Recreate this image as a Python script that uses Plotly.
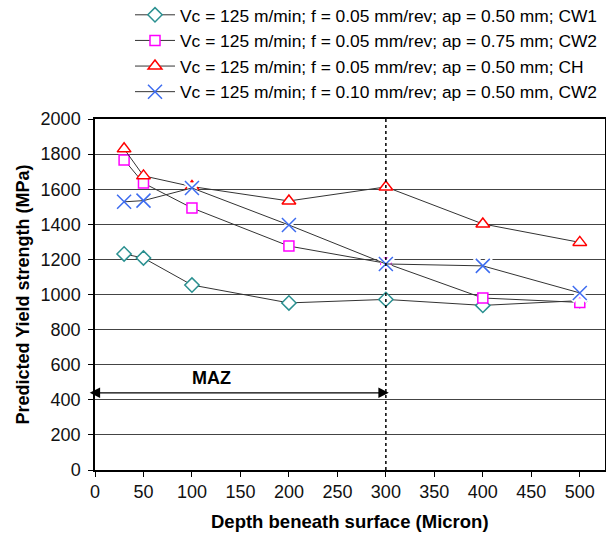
import plotly.graph_objects as go

depth = [30, 50, 100, 200, 300, 400, 500]
cw1 = [1231, 1208, 1054, 952, 972, 938, 965]
cw2_075 = [1767, 1635, 1493, 1276, 1178, 980, 955]
ch = [1830, 1676, 1615, 1533, 1613, 1402, 1297]
cw2_f010 = [1528, 1535, 1607, 1396, 1174, 1163, 1009]

names = [
    "Vc = 125 m/min; f = 0.05 mm/rev; ap = 0.50 mm; CW1",
    "Vc = 125 m/min; f = 0.05 mm/rev; ap = 0.75 mm; CW2",
    "Vc = 125 m/min; f = 0.05 mm/rev; ap = 0.50 mm; CH",
    "Vc = 125 m/min; f = 0.10 mm/rev; ap = 0.50 mm, CW2",
]
xticks = [0, 50, 100, 150, 200, 250, 300, 350, 400, 450, 500]
yticks = [0, 200, 400, 600, 800, 1000, 1200, 1400, 1600, 1800, 2000]

FONT = "Arial, Liberation Sans, sans-serif"
LINE = dict(color="#333333", width=1)

fig = go.Figure()
fig.add_trace(go.Scatter(x=depth, y=cw1, mode="lines+markers", name=names[0], legendgroup="a",
                         line=LINE, marker=dict(symbol="diamond", size=11, color="white",
                                                line=dict(color="#2a9090", width=1.5))))
fig.add_trace(go.Scatter(x=depth, y=cw2_075, mode="lines+markers", name=names[1], legendgroup="b",
                         line=LINE, marker=dict(symbol="square", size=10, color="white",
                                                line=dict(color="#ff00ff", width=1.5))))
fig.add_trace(go.Scatter(x=depth, y=ch, mode="lines+markers", name=names[2], legendgroup="c",
                         line=LINE, marker=dict(symbol="triangle-up", size=12, color="white",
                                                line=dict(color="#ff0000", width=1.5))))
# white halo under the X markers
fig.add_trace(go.Scatter(x=depth, y=cw2_f010, mode="markers", showlegend=False, hoverinfo="skip",
                         marker=dict(symbol="x-thin", size=16, color="white",
                                     line=dict(color="white", width=6))))
fig.add_trace(go.Scatter(x=depth, y=cw2_f010, mode="lines+markers", name=names[3], legendgroup="d",
                         line=LINE, marker=dict(symbol="x-thin", size=14, color="#3d6cf0",
                                                line=dict(color="#3d6cf0", width=1.5))))

fig.add_shape(type="line", x0=300, x1=300, y0=0, y1=2020, xref="x", yref="y",
              line=dict(color="black", width=1.5, dash="dot"), layer="above")

fig.add_annotation(x=303, y=440, ax=-7, ay=440, xref="x", yref="y", axref="x", ayref="y",
                   text="", showarrow=True, arrowhead=2, startarrowhead=2, arrowside="end+start",
                   arrowsize=1.6, arrowwidth=1.3, arrowcolor="black")
fig.add_annotation(x=120, y=525, xref="x", yref="y", text="<b>MAZ</b>", showarrow=False,
                   font=dict(size=18, color="black", family=FONT))

fig.add_annotation(x=(22 - 95) / 510, y=0.5, xref="paper", yref="paper", textangle=-90,
                   xanchor="center", yanchor="middle",
                   text="<b>Predicted Yield strength (MPa)</b>", showarrow=False,
                   font=dict(size=18, color="black", family=FONT))
fig.add_annotation(x=(350 - 95) / 510, y=(470 - 521) / 351, xref="paper", yref="paper",
                   xanchor="center", yanchor="middle",
                   text="<b>Depth beneath surface (Micron)</b>", showarrow=False,
                   font=dict(size=18.5, color="black", family=FONT))

fig.update_layout(
    width=606, height=535,
    margin=dict(l=95, r=1, t=119, b=65, autoexpand=False),
    paper_bgcolor="white", plot_bgcolor="white",
    font=dict(family=FONT, size=18, color="#111111"),
    showlegend=True,
    legend=dict(x=(130 - 95) / 510, y=(470 + 3) / 351, xanchor="left", yanchor="top",
                bgcolor="rgba(0,0,0,0)", font=dict(size=17.4, family=FONT, color="black"),
                tracegroupgap=0, itemwidth=40),
    xaxis=dict(range=[0, 526], tickvals=xticks, ticks="outside", ticklen=5, tickcolor="black",
               showline=True, linecolor="black", linewidth=1.5, mirror=True, showgrid=False,
               zeroline=False, tickfont=dict(size=18)),
    yaxis=dict(range=[0, 2000], tickvals=yticks, ticks="outside", ticklen=5, tickcolor="black",
               showline=True, linecolor="black", linewidth=1.5, mirror=True, showgrid=True,
               gridcolor="#444444", gridwidth=1.2, zeroline=False, tickfont=dict(size=18),
               ticklabelstandoff=4),
)

fig.write_html("out.html")
